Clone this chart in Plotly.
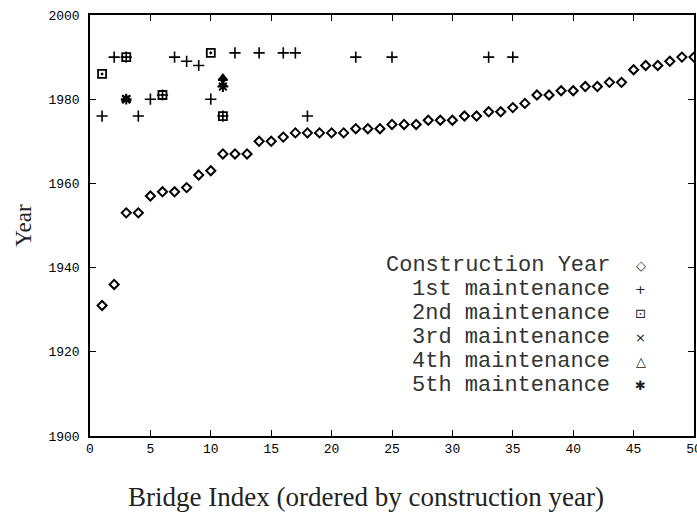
import plotly.graph_objects as go

# ---- data ----
bridge_index = list(range(1, 51))
construction_year = [1931, 1936, 1953, 1953, 1957, 1958, 1958, 1959, 1962, 1963,
                     1967, 1967, 1967, 1970, 1970, 1971, 1972, 1972, 1972, 1972,
                     1972, 1973, 1973, 1973, 1974, 1974, 1974, 1975, 1975, 1975,
                     1976, 1976, 1977, 1977, 1978, 1979, 1981, 1981, 1982, 1982,
                     1983, 1983, 1984, 1984, 1987, 1988, 1988, 1989, 1990, 1990]

m1_index = [1, 2, 3, 4, 5, 6, 7, 8, 9, 10, 11, 12, 14, 16, 17, 18, 22, 25, 33, 35]
m1_year = [1976, 1990, 1990, 1976, 1980, 1981, 1990, 1989, 1988, 1980,
           1976, 1991, 1991, 1991, 1991, 1976, 1990, 1990, 1990, 1990]
m2_index = [1, 3, 6, 10, 11]
m2_year = [1986, 1990, 1981, 1991, 1976]
m3_index = [3, 11]
m3_year = [1980, 1984]
m4_index = [3, 11]
m4_year = [1980, 1985]
m5_index = [3, 11]
m5_year = [1980, 1983]

legend_labels = ["Construction Year", "1st maintenance", "2nd maintenance",
                 "3rd maintenance", "4th maintenance", "5th maintenance"]
legend_glyphs = ["\u25C7", "+", "\u22A1", "\u00D7", "\u25B3", "\u2731"]

x_ticks = list(range(0, 51, 5))
y_ticks = list(range(1900, 2001, 20))

x_title = "Bridge Index (ordered by construction year)"
y_title = "Year"

fig = go.Figure()

fig.add_trace(go.Scatter(x=bridge_index, y=construction_year, mode="markers",
                         marker=dict(symbol="diamond-open", size=7, color="black",
                                     line=dict(width=2, color="black")),
                         name=legend_labels[0]))
fig.add_trace(go.Scatter(x=m1_index, y=m1_year, mode="markers",
                         marker=dict(symbol="cross-thin", size=8, color="black",
                                     line=dict(width=1.6, color="black")),
                         name=legend_labels[1]))
fig.add_trace(go.Scatter(x=m2_index, y=m2_year, mode="markers",
                         marker=dict(symbol="square-open-dot", size=8, color="black",
                                     line=dict(width=1.8, color="black")),
                         name=legend_labels[2]))
fig.add_trace(go.Scatter(x=m3_index, y=m3_year, mode="markers",
                         marker=dict(symbol="x-thin", size=8, color="black",
                                     line=dict(width=2, color="black")),
                         name=legend_labels[3]))
fig.add_trace(go.Scatter(x=m4_index, y=m4_year, mode="markers",
                         marker=dict(symbol="triangle-up", size=8, color="black",
                                     line=dict(width=1.5, color="black")),
                         name=legend_labels[4]))
fig.add_trace(go.Scatter(x=m5_index, y=m5_year, mode="markers",
                         marker=dict(symbol="asterisk", size=9, color="black",
                                     line=dict(width=2, color="black")),
                         name=legend_labels[5]))

# legend drawn as text (labels right-aligned, symbol to the right)
leg_top_year = 1940.6
leg_step = 5.7
for i, (lab, gl) in enumerate(zip(legend_labels, legend_glyphs)):
    yy = leg_top_year - i * leg_step
    fig.add_annotation(x=43.1, y=yy, xref="x", yref="y", text=lab, showarrow=False,
                       xanchor="right", yanchor="middle", borderpad=0,
                       font=dict(family="Liberation Mono", size=22, color="#333"))
    fig.add_annotation(x=45.6, y=yy, xref="x", yref="y", text=gl, showarrow=False,
                       xanchor="center", yanchor="middle", borderpad=0,
                       font=dict(family="DejaVu Sans", size=13, color="#222"))

# x-axis title (set slightly left of centre as in the original)
fig.add_annotation(x=0.457, y=-0.145, xref="paper", yref="paper", text=x_title,
                   showarrow=False, xanchor="center", yanchor="middle",
                   font=dict(family="Liberation Serif", size=27, color="#222"))

axis_common = dict(showline=True, linecolor="black", linewidth=1.5, mirror="ticks",
                   ticks="inside", ticklen=6, tickcolor="black", tickwidth=1.2,
                   showgrid=False, zeroline=False, ticklabeloverflow="allow",
                   tickfont=dict(family="Liberation Mono", size=13, color="black"))

fig.update_xaxes(range=[0, 50], tickvals=x_ticks, ticktext=[str(v) for v in x_ticks],
                 **axis_common)
fig.update_yaxes(range=[1900, 2000], tickvals=y_ticks, ticktext=[str(v) for v in y_ticks],
                 ticklabelstandoff=6,
                 title=dict(text=y_title,
                            font=dict(family="Liberation Serif", size=23, color="#222"),
                            standoff=10),
                 **axis_common)

fig.update_layout(width=697, height=512, showlegend=False, autosize=False,
                  paper_bgcolor="white", plot_bgcolor="white",
                  margin=dict(l=90, r=3, t=15, b=76, autoexpand=False))

fig.write_html("out.html", config={"displayModeBar": False},
               post_script="document.body.style.margin='0';"
                           "document.body.style.overflow='hidden';")
